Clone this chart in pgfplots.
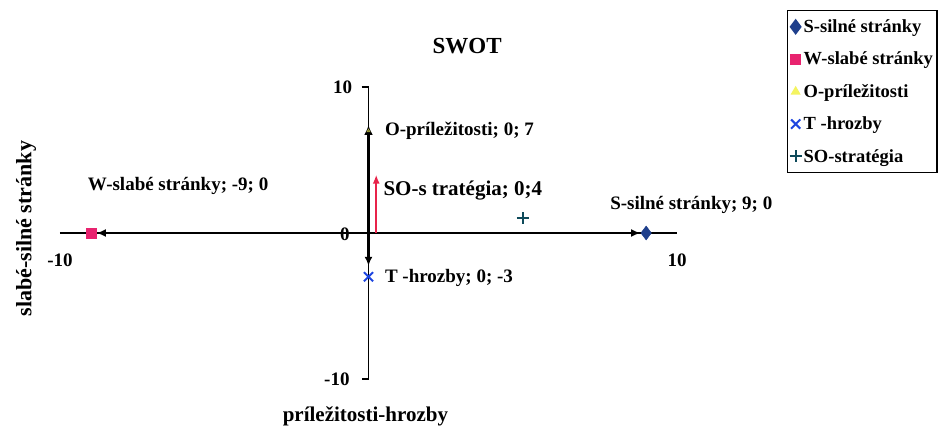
\documentclass[border=0pt]{standalone}
\usepackage{fontspec}
\setmainfont{Liberation Serif}
\usepackage{pgfplots}
\pgfplotsset{compat=1.18}
\usetikzlibrary{arrows.meta}
\definecolor{sblue}{HTML}{1F3F8C}
\definecolor{wpink}{HTML}{E8236F}
\definecolor{oyellow}{HTML}{F4F460}
\definecolor{tblue}{HTML}{1E46E0}
\definecolor{soteal}{HTML}{0E4A5A}
\definecolor{redarrow}{HTML}{E8234A}
\newcommand{\lab}{\fontsize{19}{21}\selectfont\bfseries}
\begin{document}
\begin{tikzpicture}[x=1pt,y=1pt]
\useasboundingbox (-368.5,-196) rectangle (571.5,233);
\begin{axis}[
  at={(0,0)}, anchor=origin,
  scale only axis, width=617pt, height=292pt,
  xmin=-10, xmax=10, ymin=-10, ymax=10,
  axis lines=none,
  clip=false,
  legend style={at={(1.1783,1.2637)}, anchor=north west, draw=black, line width=1.3pt,
    font=\fontsize{18.5}{20}\selectfont\bfseries, row sep=14pt, inner xsep=2pt, inner ysep=7pt,
    cells={anchor=west, inner xsep=4pt}, legend cell align=left},
]
% axis lines
\addplot[black, line width=1.8pt, forget plot] coordinates {(-10,0) (10,0)};
\addplot[black, line width=1.8pt, forget plot] coordinates {(-0.22,10) (0,10) (0,-10) (-0.22,-10)};
% data points
\addplot[only marks, mark=diamond*, mark size=7pt, color=sblue] coordinates {(9,0)};
\addlegendentry{S-silné stránky}
\addplot[only marks, mark=square*, mark size=5pt, color=wpink] coordinates {(-9,0)};
\addlegendentry{W-slabé stránky}
\addlegendimage{only marks, mark=triangle*, mark size=4.5pt, color=oyellow}
\addlegendentry{O-príležitosti}
\addplot[only marks, mark=triangle*, mark size=2pt, color=oyellow, opacity=0.5, forget plot] coordinates {(0,7)};
\addplot[only marks, mark=x, mark size=6.5pt, line width=2pt, color=tblue] coordinates {(0,-3)};
\addlegendentry{T -hrozby}
\addplot[only marks, mark=+, mark size=6pt, line width=2pt, color=soteal] coordinates {(5,1)};
\addlegendentry{SO-stratégia}
% black arrows
\addplot[black, line width=2.8pt, -{Latex[length=9pt,width=8pt]}, shorten >=6pt, forget plot] coordinates {(0,0) (9,0)};
\addplot[black, line width=2.8pt, -{Latex[length=9pt,width=8pt]}, shorten >=6pt, forget plot] coordinates {(0,0) (-9,0)};
\addplot[black, line width=2.8pt, -{Latex[length=10pt,width=9pt]}, forget plot] coordinates {(0,0) (0,7.4)};
\addplot[black, line width=2.8pt, -{Latex[length=9pt,width=8pt]}, shorten >=11pt, forget plot] coordinates {(0,0) (0,-3)};
% red SO arrow
\addplot[redarrow, line width=2pt, -{Latex[length=9pt,width=7pt]}, forget plot] coordinates {(0.25,0) (0.25,4)};
% tick labels
\node[font=\lab] at (axis cs:-10,-1.85) {-10};
\node[font=\lab] at (axis cs:10,-1.85) {10};
\node[font=\lab, anchor=east] at (axis cs:-0.42,10) {10};
\node[font=\lab, anchor=east] at (axis cs:-0.5,-10) {-10};
\node[font=\lab, anchor=east] at (axis cs:-0.5,-0.07) {0};
% data labels
\node[font=\lab, anchor=west, inner sep=0pt] at (axis cs:-9.1,3.2) {W-slabé stránky; -9; 0};
\node[font=\lab, anchor=west, inner sep=0pt] at (axis cs:0.53,7.0) {O-príležitosti; 0; 7};
\node[font=\fontsize{21}{23}\selectfont\bfseries, anchor=west, inner sep=0pt] at (axis cs:0.48,2.9) {SO-s tratégia; 0;4};
\node[font=\lab, anchor=west, inner sep=0pt] at (axis cs:7.83,1.9) {S-silné stránky; 9; 0};
\node[font=\lab, anchor=west, inner sep=0pt] at (axis cs:0.53,-3.1) {T -hrozby; 0; -3};
% titles
\node[font=\fontsize{23}{25}\selectfont\bfseries] at (axis cs:3.2,12.8) {SWOT};
\node[font=\fontsize{21}{23}\selectfont\bfseries] at (axis cs:-0.1,-12.55) {príležitosti-hrozby};
\node[font=\fontsize{22}{24}\selectfont\bfseries, rotate=90] at (axis cs:-11.1,0.3) {slabé-silné stránky};
\end{axis}
\end{tikzpicture}
\end{document}
